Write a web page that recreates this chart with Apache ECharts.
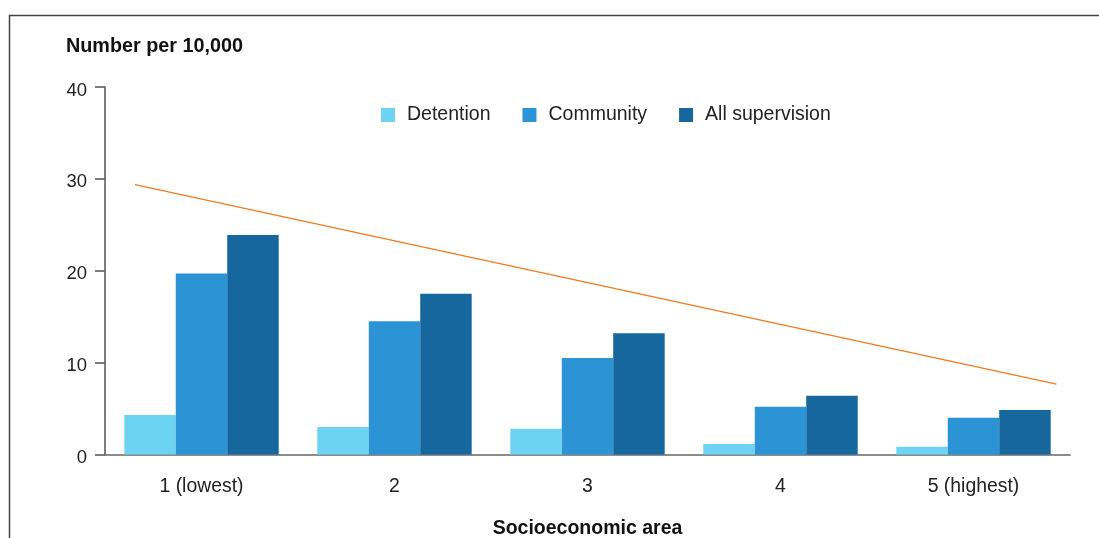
<!DOCTYPE html>
<html>
<head>
<meta charset="utf-8">
<script src="https://cdn.jsdelivr.net/npm/echarts@6/dist/echarts.min.js"></script>
<style>
html,body{margin:0;padding:0;background:#fff;}
#chart{width:1099px;height:538px;}
</style>
</head>
<body>
<div id="chart"></div>
<script>
var categories = ['1 (lowest)', '2', '3', '4', '5 (highest)'];
var detention = [4.3, 3.0, 2.8, 1.15, 0.85];
var community = [19.7, 14.5, 10.5, 5.2, 4.0];
var allSupervision = [23.9, 17.5, 13.2, 6.4, 4.85];
// trend line end points: x in category units (0..5 across the axis), y values
var trendX = [0.155, 4.93];
var trendY = [29.37, 7.65];
var yTicks = [0, 10, 20, 30, 40];

var chart = echarts.init(document.getElementById('chart'), null, {renderer: 'canvas'});
var font = '"Liberation Sans", Arial, sans-serif';
var option = {
  animation: false,
  backgroundColor: '#fff',
  textStyle: {fontFamily: font},
  graphic: [
    {type: 'line', shape: {x1: 9, y1: 15.5, x2: 1099, y2: 15.5}, style: {stroke: '#444', lineWidth: 1.5}},
    {type: 'line', shape: {x1: 9.5, y1: 15, x2: 9.5, y2: 538}, style: {stroke: '#444', lineWidth: 1.5}},
    {type: 'text', left: 66, top: 37, style: {text: 'Number per 10,000', font: 'bold 19.8px ' + font, fill: '#111'}}
  ],
  legend: {
    left: 381, top: 105, padding: 0,
    itemWidth: 14, itemHeight: 14, itemGap: 32,
    icon: 'rect',
    textStyle: {fontSize: 19.5, color: '#222', fontFamily: font, padding: [0, 0, 0, 7]},
    data: ['Detention', 'Community', 'All supervision']
  },
  grid: {left: 105, right: 29, top: 87, bottom: 83.5, containLabel: false, outerBoundsMode: 'none'},
  xAxis: [
    {
      type: 'category', data: categories,
      axisLine: {lineStyle: {color: '#666', width: 1.7}},
      axisTick: {show: false},
      axisLabel: {fontSize: 19.4, color: '#222', margin: 23, fontFamily: font},
      name: 'Socioeconomic area', nameLocation: 'middle', nameGap: 64,
      nameTextStyle: {fontSize: 19.5, fontWeight: 'bold', color: '#111', fontFamily: font}
    },
    {
      type: 'value', min: 0, max: 5, show: false
    }
  ],
  yAxis: {
    type: 'value', min: yTicks[0], max: yTicks[yTicks.length - 1], interval: 10,
    axisLine: {show: true, lineStyle: {color: '#666', width: 1.7}},
    axisTick: {show: true, length: 10, lineStyle: {color: '#666', width: 1.7}},
    axisLabel: {
      margin: 18,
      formatter: '{v|{value}}',
      rich: {v: {fontSize: 18.5, color: '#222', fontFamily: font, padding: [7, 0, 0, 0]}}
    },
    splitLine: {show: false}
  },
  series: [
    {name: 'Detention', type: 'bar', data: detention, barGap: '0%', barCategoryGap: '20%', itemStyle: {color: '#6cd3f3'}},
    {name: 'Community', type: 'bar', data: community, barGap: '0%', barCategoryGap: '20%', itemStyle: {color: '#2c94d4'}},
    {name: 'All supervision', type: 'bar', data: allSupervision, barGap: '0%', barCategoryGap: '20%', itemStyle: {color: '#16679e'}},
    {
      name: 'Trend', type: 'line', xAxisIndex: 1, symbol: 'none',
      data: trendX.map(function (x, i) { return [x, trendY[i]]; }),
      lineStyle: {color: '#f07a22', width: 1.3}
    }
  ]
};
chart.setOption(option);
</script>
</body>
</html>
